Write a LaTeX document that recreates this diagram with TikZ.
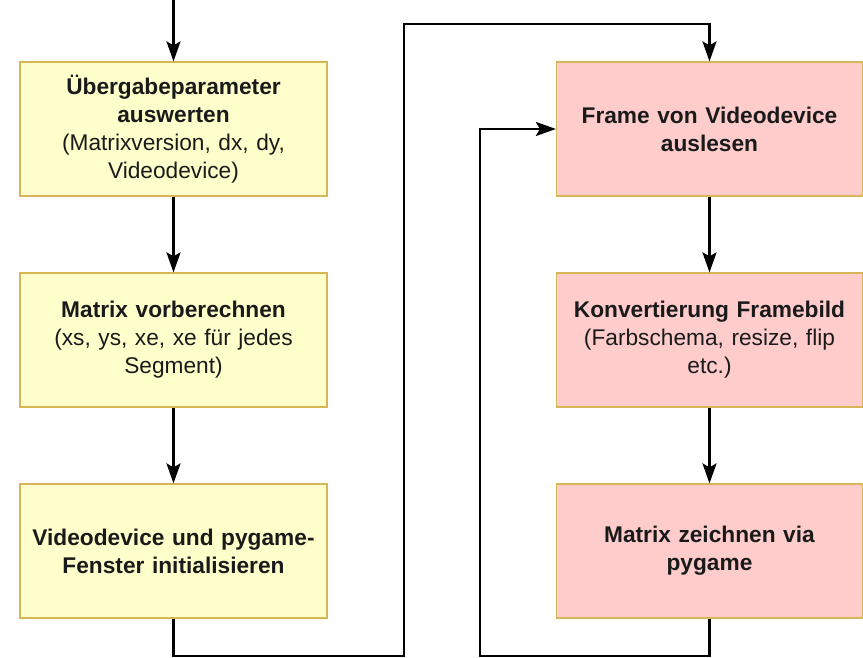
\documentclass[tikz,border=0pt]{standalone}
\usepackage{fontspec}
\setmainfont{Liberation Sans}
\usepackage{tikz}
\usetikzlibrary{arrows.meta,positioning}
\definecolor{gelb}{HTML}{FFFFCC}
\definecolor{rosa}{HTML}{FFCCCC}
\definecolor{rand}{HTML}{D6B656}
\definecolor{schrift}{HTML}{1A1A1A}

\begin{document}
\begin{tikzpicture}[x=1pt,y=1pt,>={Stealth[length=20pt,width=14pt,inset=4pt]},
    box/.style={draw=rand,line width=1.2pt,rectangle,align=center,inner sep=0pt,
      text width=296pt,minimum width=307pt,minimum height=134pt,text=schrift,
      font=\fontsize{22.7}{28}\selectfont},
    flow/.style={->,line width=2.6pt,black}]
  \useasboundingbox (0,0) rectangle (863,658);
  % linke Spalte
  \node[box,fill=gelb] (init) at (173.5,529)
    {\textbf{Übergabeparameter}\\\textbf{auswerten}\\(Matrixversion, dx, dy,\\Videodevice)};
  \node[box,fill=gelb] (matrix) at (173.5,318)
    {\textbf{Matrix vorberechnen}\\(xs, ys, xe, xe für jedes\\Segment)};
  \node[box,fill=gelb] (fenster) at (173.5,107)
    {\textbf{Videodevice und pygame-}\\\textbf{Fenster initialisieren}};
  % rechte Spalte
  \node[box,fill=rosa,minimum width=306pt] (frame) at (709.5,529)
    {\textbf{Frame von Videodevice}\\\textbf{auslesen}};
  \node[box,fill=rosa,minimum width=306pt] (konv) at (709.5,318)
    {\textbf{Konvertierung Framebild}\\(Farbschema, resize, flip\\etc.)};
  \node[box,fill=rosa,minimum width=306pt] (zeichnen) at (709.5,107)
    {\textbf{Matrix zeichnen via}\\\textbf{pygame}};
  % Verbindungen
  \coordinate (start) at (173.5,658);
  \coordinate (u1) at (404,2);
  \coordinate (o1) at (404,634);
  \coordinate (u2) at (480,2);
  \draw[flow] (start) -- (init);
  \draw[flow] (init) -- (matrix);
  \draw[flow] (matrix) -- (fenster);
  \draw[flow] (fenster.south) |- (u1) -- (o1) -| (frame.north);
  \draw[flow] (frame) -- (konv);
  \draw[flow] (konv) -- (zeichnen);
  \draw[flow] (zeichnen.south) |- (u2) |- (frame.west);
\end{tikzpicture}
\end{document}
